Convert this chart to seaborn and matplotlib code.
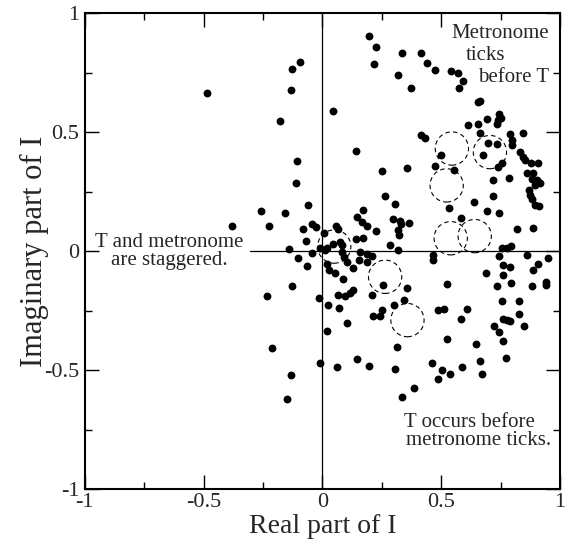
import numpy as np
import pandas as pd
import matplotlib
matplotlib.use("Agg")
import matplotlib.pyplot as plt
from matplotlib.patches import Circle
from matplotlib.ticker import MultipleLocator
import seaborn as sns

# ---- data: real and imaginary parts of I ----
re_I = [
    -0.486, -0.095, -0.129, -0.130, -0.178, -0.105, -0.109, -0.059, -0.257, -0.156,
    -0.381, -0.226, -0.045, -0.082, -0.027, 0.007, -0.069, -0.139,
    -0.101, -0.066, -0.126, -0.234, -0.014, -0.210, -0.010, -0.132, -0.147, 0.025, 0.021,
    0.044, 0.074, 0.082, -0.010, 0.011, 0.021, -0.045, 0.082, 0.089, 0.140, 0.172,
    0.021, 0.029, 0.053, 0.086, 0.105, 0.130, 0.154, 0.187, 0.208, 0.187, 0.159,
    0.067, 0.095, 0.117, 0.128, 0.069, 0.103, 0.059, 0.067,
    0.196, 0.226, 0.217, 0.335, 0.320, 0.374, 0.415, 0.440, 0.473, 0.541, 0.570,
    0.592, 0.576, 0.046, 0.656, 0.665, 0.694, 0.656, 0.612, 0.745, 0.750, 0.740,
    0.734, 0.663, 0.415, 0.433, 0.140, 0.499, 0.696, 0.734, 0.675, 0.790, 0.797,
    0.797, 0.843, 0.832, 0.843, 0.853, 0.755, 0.740, 0.878, 0.906, 0.473, 0.555,
    0.355, 0.250, 0.717, 0.784,
    0.860, 0.888, 0.881, 0.902, 0.916, 0.895, 0.871, 0.874, 0.881, 0.895, 0.913,
    0.717, 0.637, 0.533, 0.692, 0.742, 0.585, 0.820, 0.888, 0.757, 0.778, 0.794,
    0.265, 0.307, 0.171, 0.147, 0.166, 0.187, 0.296, 0.327, 0.330, 0.320, 0.323,
    0.366, 0.227, 0.285, 0.320,
    0.464, 0.467, 0.742, 0.860, 0.948,
    0.909, 0.888, 0.759, 0.790, 0.687, 0.762, 0.523, 0.734, 0.793, 0.881, 0.940,
    0.941, 0.757, 0.829, 0.488, 0.512, 0.609, 0.582, 0.828, 0.759, 0.778, 0.790,
    0.850, 0.722, 0.743, 0.762, 0.523, 0.645, 0.774, 0.460, 0.505, 0.488, 0.536,
    0.588, 0.665, 0.673,
    0.210, 0.257, 0.355, 0.303, 0.344, 0.215, 0.243, 0.252, 0.316, 0.061, 0.147,
    0.196, 0.306, 0.387, 0.334,
]
im_I = [
    0.665, 0.795, 0.765, 0.679, 0.547, 0.378, 0.287, 0.193, 0.171, 0.163,
    0.105, 0.105, 0.116, 0.095, 0.101, 0.079, 0.042, 0.011,
    -0.028, -0.060, -0.146, -0.186, -0.197, -0.406, -0.468, -0.518, -0.619, -0.227, -0.336,
    0.029, 0.039, 0.025, 0.016, 0.004, 0.016, -0.007, -0.003, -0.024, 0.050, 0.058,
    -0.055, -0.077, -0.091, -0.115, -0.045, -0.069, -0.038, -0.045, -0.021, -0.010, -0.003,
    -0.182, -0.189, -0.175, -0.164, -0.238, -0.300, 0.108, 0.095,
    0.905, 0.857, 0.787, 0.833, 0.742, 0.686, 0.833, 0.791, 0.763, 0.759, 0.749,
    0.714, 0.686, 0.590, 0.627, 0.632, 0.556, 0.534, 0.529, 0.576, 0.562, 0.551,
    0.537, 0.497, 0.490, 0.476, 0.420, 0.403, 0.455, 0.450, 0.406, 0.492, 0.469,
    0.445, 0.496, 0.417, 0.396, 0.382, 0.373, 0.354, 0.371, 0.371, 0.357, 0.342,
    0.350, 0.337, 0.301, 0.307,
    0.327, 0.329, 0.305, 0.298, 0.287, 0.277, 0.256, 0.235, 0.221, 0.193, 0.189,
    0.234, 0.206, 0.184, 0.171, 0.163, 0.139, 0.094, 0.098, 0.016, 0.016, 0.022,
    0.234, 0.200, 0.175, 0.143, 0.122, 0.106, 0.134, 0.127, 0.116, 0.088, 0.067,
    0.119, 0.085, 0.025, 0.007,
    -0.017, -0.038, -0.021, -0.017, -0.027,
    -0.055, -0.080, -0.059, -0.066, -0.090, -0.101, -0.139, -0.147, -0.133, -0.146, -0.129,
    -0.143, -0.209, -0.210, -0.245, -0.244, -0.244, -0.283, -0.262, -0.283, -0.290, -0.293,
    -0.315, -0.315, -0.339, -0.377, -0.367, -0.388, -0.447, -0.468, -0.500, -0.535, -0.517,
    -0.487, -0.461, -0.514,
    -0.185, -0.143, -0.154, -0.227, -0.206, -0.272, -0.272, -0.248, -0.403, -0.486, -0.454,
    -0.480, -0.496, -0.574, -0.612,
]

# dashed reference circles (centres)
circ_re = [0.05, 0.545, 0.705, 0.523, 0.540, 0.641, 0.264, 0.358]
circ_im = [0.02, 0.432, 0.417, 0.277, 0.055, 0.064, -0.107, -0.289]
circ_radius = 0.07

x_ticks = [-1, -0.5, 0, 0.5, 1]
x_tick_labels = ["-1", "-0.5", "0", "0.5", "1"]
y_ticks = [-1, -0.5, 0, 0.5, 1]
y_tick_labels = ["-1", "-0.5", "0", "0.5", "1"]

df = pd.DataFrame({"re": re_I, "im": im_I})

sns.set_style("ticks")
plt.rcParams["font.family"] = ["Liberation Serif", "DejaVu Serif"]

fig = plt.figure(figsize=(5.65, 5.46), dpi=100)
ax = fig.add_axes([0.1499, 0.1038, 0.8413, 0.8718])

ax.axvline(0, color="black", lw=0.9, zorder=1)
ax.axhline(0, xmin=0.348, xmax=1, color="black", lw=0.9, zorder=1)

sns.scatterplot(data=df, x="re", y="im", color="black", s=32, linewidth=0,
                ax=ax, zorder=3, legend=False)

for cx, cy in zip(circ_re, circ_im):
    ax.add_patch(Circle((cx, cy), circ_radius, fill=False, ec="black",
                        lw=0.8, ls=(0, (4, 3)), zorder=2))

ax.set_xlim(-1, 1)
ax.set_ylim(-1, 1)
ax.set_xticks(x_ticks)
ax.set_xticklabels(x_tick_labels)
ax.set_yticks(y_ticks)
ax.set_yticklabels(y_tick_labels)
ax.xaxis.set_minor_locator(MultipleLocator(0.25))
ax.yaxis.set_minor_locator(MultipleLocator(0.25))
ax.tick_params(which="both", direction="in", top=True, right=True,
               width=1.0, color="black", labelsize=16)
ax.tick_params(which="major", length=10)
ax.tick_params(which="minor", length=5)
ax.tick_params(axis="x", pad=3)
ax.tick_params(axis="y", pad=4)
for sp in ax.spines.values():
    sp.set_linewidth(1.5)
    sp.set_color("black")

ax.set_xlabel("Real part of I", fontsize=20, labelpad=1)
ax.set_ylabel("Imaginary part of I", fontsize=22, labelpad=-3.5)

fs = 15
ax.text(0.544, 0.898, "Metronome", fontsize=fs, ha="left", va="baseline")
ax.text(0.605, 0.805, "ticks", fontsize=fs, ha="left", va="baseline")
ax.text(0.655, 0.711, "before T", fontsize=fs, ha="left", va="baseline")

ax.text(-0.645, 0.017, "T and metronome", fontsize=fs, ha="center", va="baseline")
ax.text(-0.645, -0.059, "are staggered.", fontsize=fs, ha="center", va="baseline")

ax.text(0.343, -0.738, "T occurs before", fontsize=fs, ha="left", va="baseline")
ax.text(0.352, -0.815, "metronome ticks.", fontsize=fs, ha="left", va="baseline")

fig.savefig("out.png", dpi=100)
